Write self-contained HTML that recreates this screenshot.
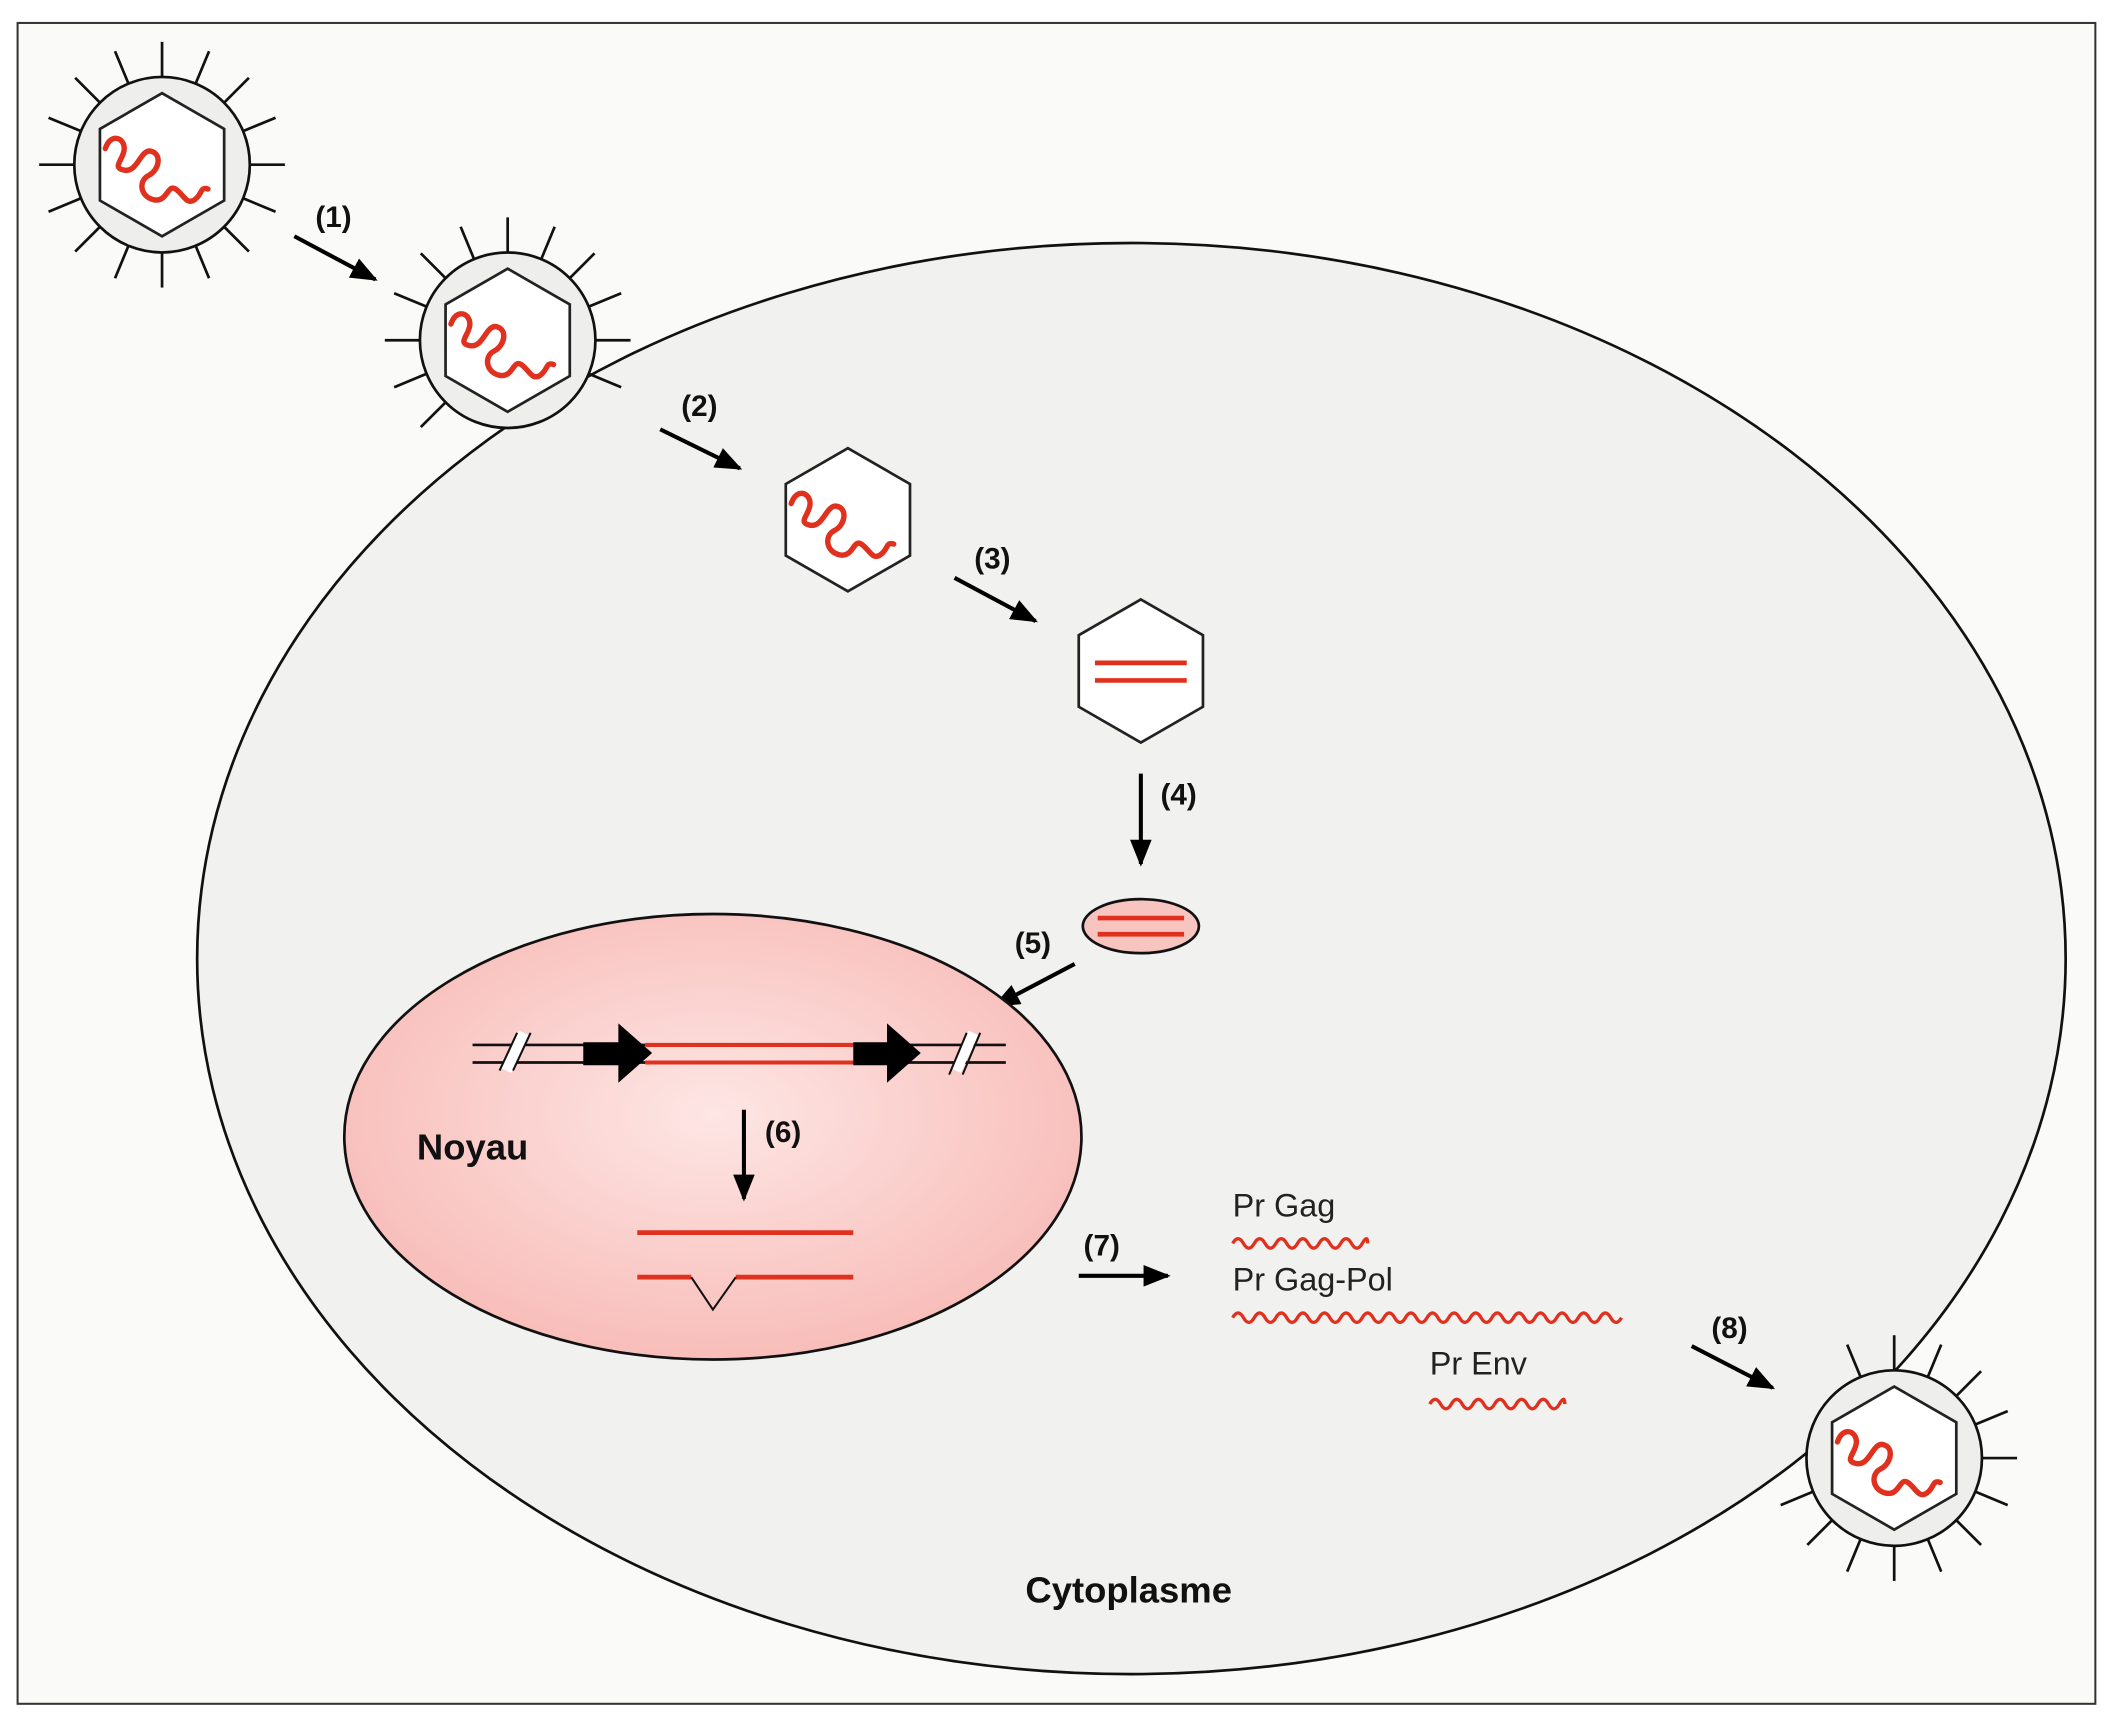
<!DOCTYPE html>
<html><head><meta charset="utf-8"><style>html,body{margin:0;padding:0;background:#fff}svg{display:block}text{font-family:"Liberation Sans",Arial,sans-serif}</style></head>
<body>
<svg width="2117" height="1720" viewBox="0 0 1568 1274" xmlns="http://www.w3.org/2000/svg">
<defs>
<radialGradient id="nuc" cx="50%" cy="45%" r="55%">
<stop offset="0" stop-color="#fde6e4"/><stop offset="1" stop-color="#f8bdb9"/>
</radialGradient>
<marker id="ah" markerWidth="10" markerHeight="10" refX="8" refY="5" orient="auto" markerUnits="userSpaceOnUse" viewBox="0 0 10 10">
<path d="M0,0 L10,5 L0,10 Z" fill="#000"/>
</marker>
<marker id="ah2" markerWidth="20" markerHeight="16" refX="18" refY="8" orient="auto" markerUnits="userSpaceOnUse" viewBox="0 0 20 16">
<path d="M0,0 L20,8 L0,16 Z" fill="#000"/>
</marker>
<path id="squig" d="M-42,-12 c4,-12 14,-8 14,0 s-10,14 0,16 s12,-16 20,-14 s6,14 -2,18 s-6,16 4,18 s10,-12 16,-8 s8,12 14,8 s4,-10 10,-8" fill="none" stroke="#e0301e" stroke-width="4" stroke-linecap="round"/>
<polygon id="hex" points="0,-53 46,-26.5 46,26.5 0,53 -46,26.5 -46,-26.5" fill="#fff" stroke="#222" stroke-width="2"/>
<line id="sp" x1="0" y1="-65" x2="0" y2="-91" stroke="#111" stroke-width="2"/>
</defs>
<rect x="0" y="0" width="1568" height="1274" fill="#fff"/>
<rect x="13" y="17" width="1539" height="1245" fill="#fafaf8" stroke="#333" stroke-width="1.5"/>

<!-- cell -->
<ellipse cx="838" cy="710" rx="692" ry="530" fill="#f1f1ef" stroke="#111" stroke-width="2"/>

<!-- virus 1 -->
<g transform="translate(120,122)">
<g><use href="#sp" transform="rotate(0)"/><use href="#sp" transform="rotate(22.5)"/><use href="#sp" transform="rotate(45)"/><use href="#sp" transform="rotate(67.5)"/><use href="#sp" transform="rotate(90)"/><use href="#sp" transform="rotate(112.5)"/><use href="#sp" transform="rotate(135)"/><use href="#sp" transform="rotate(157.5)"/><use href="#sp" transform="rotate(180)"/><use href="#sp" transform="rotate(202.5)"/><use href="#sp" transform="rotate(225)"/><use href="#sp" transform="rotate(247.5)"/><use href="#sp" transform="rotate(270)"/><use href="#sp" transform="rotate(292.5)"/><use href="#sp" transform="rotate(315)"/><use href="#sp" transform="rotate(337.5)"/></g>
<circle r="65" fill="#eeeeec" stroke="#111" stroke-width="2"/>
<use href="#hex"/><use href="#squig"/>
</g>

<!-- virus 2 -->
<g transform="translate(376,252)">
<use href="#sp" transform="rotate(0)"/><use href="#sp" transform="rotate(22.5)"/><use href="#sp" transform="rotate(45)"/><use href="#sp" transform="rotate(67.5)"/><use href="#sp" transform="rotate(90)"/><use href="#sp" transform="rotate(112.5)"/><use href="#sp" transform="rotate(225)"/><use href="#sp" transform="rotate(247.5)"/><use href="#sp" transform="rotate(270)"/><use href="#sp" transform="rotate(292.5)"/><use href="#sp" transform="rotate(315)"/><use href="#sp" transform="rotate(337.5)"/>
<circle r="65" fill="#eeeeec" stroke="#111" stroke-width="2"/>
<use href="#hex"/><use href="#squig"/>
</g>

<!-- virus 3 -->
<g transform="translate(1403,1080)">
<use href="#sp" transform="rotate(0)"/><use href="#sp" transform="rotate(22.5)"/><use href="#sp" transform="rotate(45)"/><use href="#sp" transform="rotate(67.5)"/><use href="#sp" transform="rotate(90)"/><use href="#sp" transform="rotate(112.5)"/><use href="#sp" transform="rotate(135)"/><use href="#sp" transform="rotate(157.5)"/><use href="#sp" transform="rotate(180)"/><use href="#sp" transform="rotate(202.5)"/><use href="#sp" transform="rotate(225)"/><use href="#sp" transform="rotate(247.5)"/><use href="#sp" transform="rotate(337.5)"/>
<circle r="65" fill="#eeeeec" stroke="#111" stroke-width="2"/>
<use href="#hex"/><use href="#squig"/>
</g>

<!-- free capsid -->
<g transform="translate(628,385)"><use href="#hex"/><use href="#squig"/></g>
<g transform="translate(845,497)"><use href="#hex"/>
<line x1="-34" y1="-6" x2="34" y2="-6" stroke="#e0301e" stroke-width="3.5"/>
<line x1="-34" y1="7" x2="34" y2="7" stroke="#e0301e" stroke-width="3.5"/></g>

<ellipse cx="845" cy="686" rx="43" ry="20" fill="#f8c4bf" stroke="#111" stroke-width="2"/>
<line x1="813" y1="680" x2="877" y2="680" stroke="#e0301e" stroke-width="3.5"/>
<line x1="813" y1="692" x2="877" y2="692" stroke="#e0301e" stroke-width="3.5"/>

<!-- arrows -->
<g stroke="#000" stroke-width="3" marker-end="url(#ah2)">
<line x1="218" y1="175" x2="278" y2="207"/>
<line x1="489" y1="318" x2="548" y2="347"/>
<line x1="707" y1="428" x2="767" y2="460"/>
<line x1="845" y1="573" x2="845" y2="640"/>
<line x1="796" y1="714" x2="737" y2="745"/>
<line x1="799" y1="945" x2="865" y2="945"/>
<line x1="1253" y1="997" x2="1313" y2="1028"/>
</g>
<g font-size="22" font-weight="bold" text-anchor="middle" fill="#111">
<text x="247" y="168">(1)</text><text x="518" y="308">(2)</text><text x="735" y="421">(3)</text>
<text x="873" y="596">(4)</text><text x="765" y="706">(5)</text><text x="816" y="930">(7)</text><text x="1281" y="991">(8)</text>
</g>

<!-- nucleus -->
<ellipse cx="528" cy="842" rx="273" ry="165" fill="url(#nuc)" stroke="#111" stroke-width="2"/>
<g stroke="#111" stroke-width="2">
<line x1="350" y1="774" x2="478" y2="774"/><line x1="350" y1="787" x2="478" y2="787"/>
<line x1="632" y1="774" x2="745" y2="774"/><line x1="632" y1="787" x2="745" y2="787"/>
</g>
<line x1="375" y1="793" x2="388" y2="765" stroke="#fff" stroke-width="8"/>
<line x1="370" y1="793" x2="383" y2="765" stroke="#111" stroke-width="1.5"/>
<line x1="380" y1="793" x2="393" y2="765" stroke="#111" stroke-width="1.5"/>
<line x1="708" y1="793" x2="721" y2="765" stroke="#fff" stroke-width="8"/>
<line x1="703" y1="796" x2="716" y2="765" stroke="#111" stroke-width="1.5"/>
<line x1="713" y1="796" x2="726" y2="765" stroke="#111" stroke-width="1.5"/>
<line x1="478" y1="774" x2="632" y2="774" stroke="#e0301e" stroke-width="3"/>
<line x1="478" y1="787" x2="632" y2="787" stroke="#e0301e" stroke-width="3"/>
<path d="M432,772 L458,772 L458,758 L483,780 L458,802 L458,789 L432,789 Z" fill="#000"/>
<path d="M632,772 L657,772 L657,758 L682,780 L657,802 L657,789 L632,789 Z" fill="#000"/>
<text x="350" y="859" font-size="27" font-weight="bold" text-anchor="middle" fill="#111">Noyau</text>
<line x1="551" y1="822" x2="551" y2="888" stroke="#000" stroke-width="3" marker-end="url(#ah2)"/>
<text x="580" y="846" font-size="22" font-weight="bold" text-anchor="middle" fill="#111">(6)</text>
<line x1="472" y1="913" x2="632" y2="913" stroke="#e0301e" stroke-width="3.5"/>
<line x1="472" y1="946" x2="512" y2="946" stroke="#e0301e" stroke-width="3.5"/>
<line x1="545" y1="946" x2="632" y2="946" stroke="#e0301e" stroke-width="3.5"/>
<polyline points="512,946 528,970 545,946" fill="none" stroke="#111" stroke-width="1.5"/>

<!-- proteins -->
<g font-size="24" fill="#222">
<text x="913" y="901">Pr Gag</text><text x="913" y="956">Pr Gag-Pol</text><text x="1059" y="1018">Pr Env</text>
</g>
<g fill="none" stroke="#e0301e" stroke-width="2.5">
<path d="M913,921 q4,-7 8,0 t8,0 t8,0 t8,0 t8,0 t8,0 t8,0 t8,0 t8,0 t8,0 t8,0 t8,0 t4,0"/>
<path d="M913,976 q4,-7 8,0 t8,0 t8,0 t8,0 t8,0 t8,0 t8,0 t8,0 t8,0 t8,0 t8,0 t8,0 t8,0 t8,0 t8,0 t8,0 t8,0 t8,0 t8,0 t8,0 t8,0 t8,0 t8,0 t8,0 t8,0 t8,0 t8,0 t8,0 t8,0 t8,0 t8,0 t8,0 t8,0 t8,0 t8,0 t8,0"/>
<path d="M1059,1040 q4,-7 8,0 t8,0 t8,0 t8,0 t8,0 t8,0 t8,0 t8,0 t8,0 t8,0 t8,0 t8,0 t4,0"/>
</g>
<text x="836" y="1187" font-size="27" font-weight="bold" text-anchor="middle" fill="#111">Cytoplasme</text>
</svg>
</body></html>
